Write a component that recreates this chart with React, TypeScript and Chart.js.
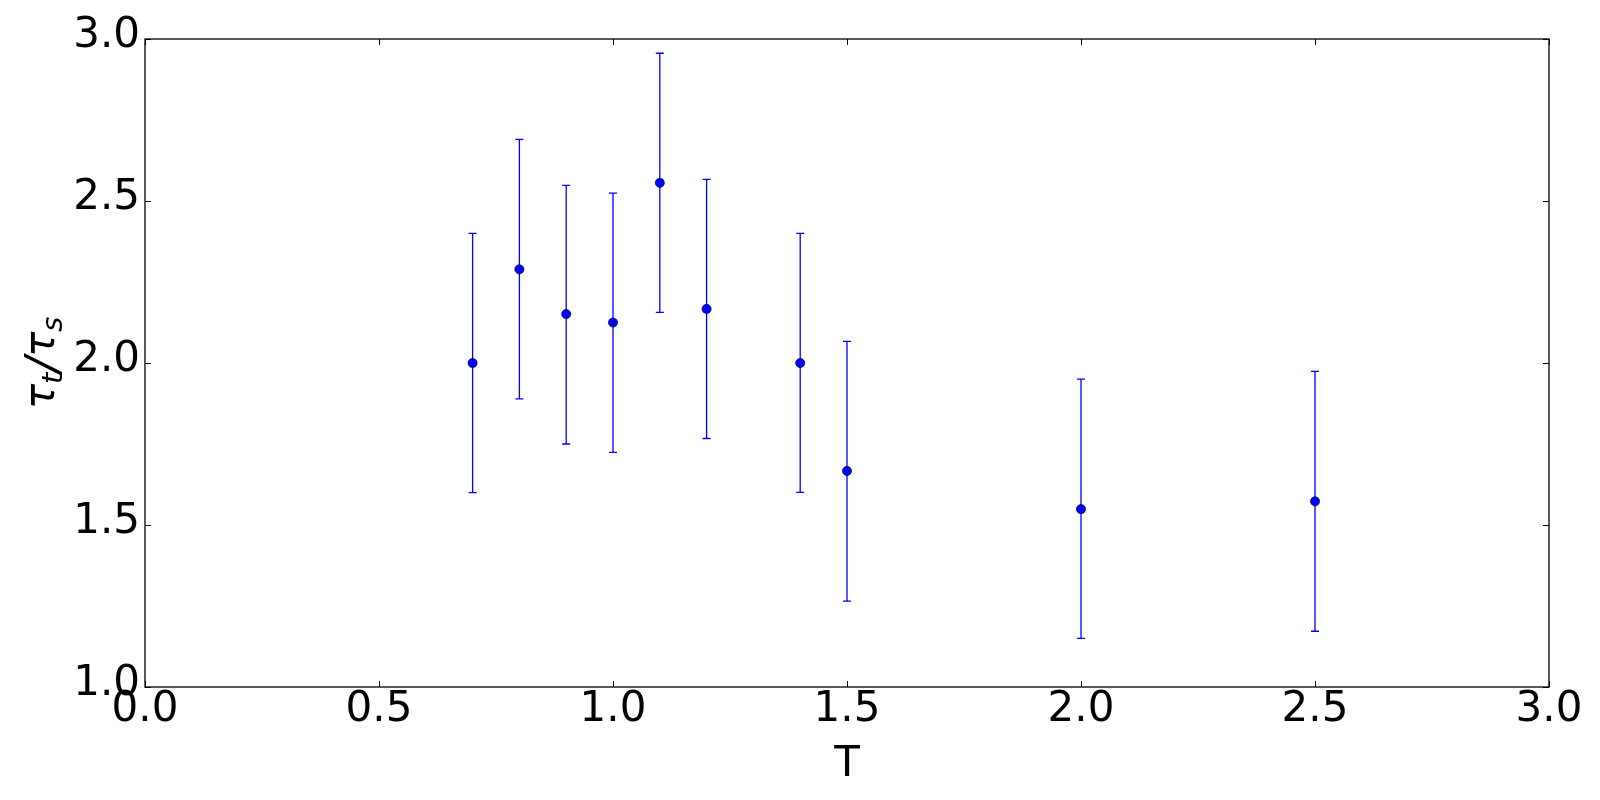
import { useEffect, useRef } from "react";
import { Chart, registerables } from "chart.js";

Chart.register(...registerables);

const temperatures = [0.7, 0.8, 0.9, 1.0, 1.1, 1.2, 1.4, 1.5, 2.0, 2.5];
const tauRatio = [2.0, 2.289, 2.151, 2.125, 2.556, 2.167, 2.0, 1.667, 1.549, 1.573];
const errorPlus = [0.4, 0.401, 0.397, 0.399, 0.4, 0.4, 0.4, 0.4, 0.401, 0.401];
const errorMinus = [0.4, 0.4, 0.401, 0.401, 0.4, 0.4, 0.399, 0.402, 0.399, 0.401];
const xTickValues = [0, 0.5, 1.0, 1.5, 2.0, 2.5, 3.0];
const yTickValues = [1.0, 1.5, 2.0, 2.5, 3.0];

const FONT = "'DejaVu Sans', sans-serif";
const BLUE = "#0000ff";

const errorBarPlugin = {
  id: "errorBars",
  beforeDatasetsDraw(chart: any) {
    const ctx = chart.ctx;
    const xs = chart.scales.x;
    const ys = chart.scales.y;
    ctx.save();
    ctx.strokeStyle = BLUE;
    ctx.lineWidth = 1.3;
    const cap = 4;
    temperatures.forEach((t, i) => {
      const px = xs.getPixelForValue(t);
      const top = ys.getPixelForValue(tauRatio[i] + errorPlus[i]);
      const bot = ys.getPixelForValue(tauRatio[i] - errorMinus[i]);
      ctx.beginPath();
      ctx.moveTo(px, top);
      ctx.lineTo(px, bot);
      ctx.moveTo(px - cap, top);
      ctx.lineTo(px + cap, top);
      ctx.moveTo(px - cap, bot);
      ctx.lineTo(px + cap, bot);
      ctx.stroke();
    });
    ctx.restore();
  },
};

const framePlugin = {
  id: "frame",
  afterDraw(chart: any) {
    const ctx = chart.ctx;
    const { left, right, top, bottom } = chart.chartArea;
    const xs = chart.scales.x;
    const ys = chart.scales.y;
    const tl = 6;
    ctx.save();
    ctx.strokeStyle = "#000";
    ctx.lineWidth = 1;
    ctx.beginPath();
    xTickValues.forEach((v) => {
      const px = Math.round(xs.getPixelForValue(v)) + 0.5;
      ctx.moveTo(px, bottom);
      ctx.lineTo(px, bottom - tl);
      ctx.moveTo(px, top);
      ctx.lineTo(px, top + tl);
    });
    yTickValues.forEach((v) => {
      const py = Math.round(ys.getPixelForValue(v)) + 0.5;
      ctx.moveTo(left, py);
      ctx.lineTo(left + tl, py);
      ctx.moveTo(right, py);
      ctx.lineTo(right - tl, py);
    });
    ctx.stroke();
    ctx.lineWidth = 1.3;
    ctx.strokeRect(left, top, right - left, bottom - top);

    // y-axis label: tau_t / tau_s (rotated)
    const big = 42;
    const small = 29;
    const parts = [
      { text: "τ", size: big, dy: 0 },
      { text: "t", size: small, dy: 8 },
      { text: "/", size: 46, dy: 4 },
      { text: "τ", size: big, dy: 0 },
      { text: "s", size: small, dy: 8 },
    ];
    let total = 0;
    const widths = parts.map((p) => {
      ctx.font = `italic ${p.size}px ${FONT}`;
      const w = ctx.measureText(p.text).width;
      total += w;
      return w;
    });
    const target = 88;
    const gap = Math.max(0, (target - total) / (parts.length - 1));
    const full = total + gap * (parts.length - 1);
    const cy = 363;
    ctx.translate(54, cy);
    ctx.rotate(-Math.PI / 2);
    ctx.fillStyle = "#000";
    ctx.textBaseline = "alphabetic";
    ctx.textAlign = "left";
    let x = -full / 2;
    parts.forEach((p, i) => {
      ctx.font = `italic ${p.size}px ${FONT}`;
      ctx.fillText(p.text, x, p.dy);
      x += widths[i] + gap;
    });
    ctx.restore();
  },
};

export default function App() {
  const canvasRef = useRef<HTMLCanvasElement | null>(null);

  useEffect(() => {
    document.body.style.margin = "0";
    const canvas = canvasRef.current;
    if (!canvas) return;
    const chart = new Chart(canvas, {
      type: "scatter",
      data: {
        datasets: [
          {
            data: temperatures.map((t, i) => ({ x: t, y: tauRatio[i] })),
            backgroundColor: BLUE,
            borderColor: "#000",
            borderWidth: 0.6,
            pointRadius: 4.6,
            showLine: false,
          },
        ],
      },
      options: {
        animation: false,
        responsive: false,
        devicePixelRatio: 1,
        layout: { padding: { left: 0, top: 39, right: 51, bottom: 0 } },
        plugins: {
          legend: { display: false },
          tooltip: { enabled: false },
        },
        scales: {
          x: {
            type: "linear",
            min: 0,
            max: 3,
            afterFit: (s: any) => {
              s.height = 113;
            },
            afterBuildTicks: (s: any) => {
              s.ticks = xTickValues.map((v) => ({ value: v }));
            },
            grid: { display: false, drawTicks: false },
            border: { display: false },
            ticks: {
              autoSkip: false,
              maxRotation: 0,
              padding: 2,
              color: "#000",
              font: { family: FONT, size: 42, lineHeight: 1 },
              callback: (v: any) => Number(v).toFixed(1),
            },
            title: {
              display: true,
              text: "T",
              color: "#000",
              font: { family: FONT, size: 42, lineHeight: 1.2 },
              padding: { top: 0, bottom: 10 },
            },
          },
          y: {
            type: "linear",
            min: 1,
            max: 3,
            afterFit: (s: any) => {
              s.width = 145;
            },
            afterBuildTicks: (s: any) => {
              s.ticks = yTickValues.map((v) => ({ value: v }));
            },
            grid: { display: false, drawTicks: false },
            border: { display: false },
            ticks: {
              autoSkip: false,
              padding: 5,
              labelOffset: -3,
              color: "#000",
              font: { family: FONT, size: 42, lineHeight: 1 },
              callback: (v: any) => Number(v).toFixed(1),
            },
          },
        },
      },
      plugins: [errorBarPlugin, framePlugin],
    });
    return () => chart.destroy();
  }, []);

  return (
    <canvas
      ref={canvasRef}
      width={1600}
      height={800}
      style={{ display: "block", width: "1600px", height: "800px" }}
    />
  );
}
